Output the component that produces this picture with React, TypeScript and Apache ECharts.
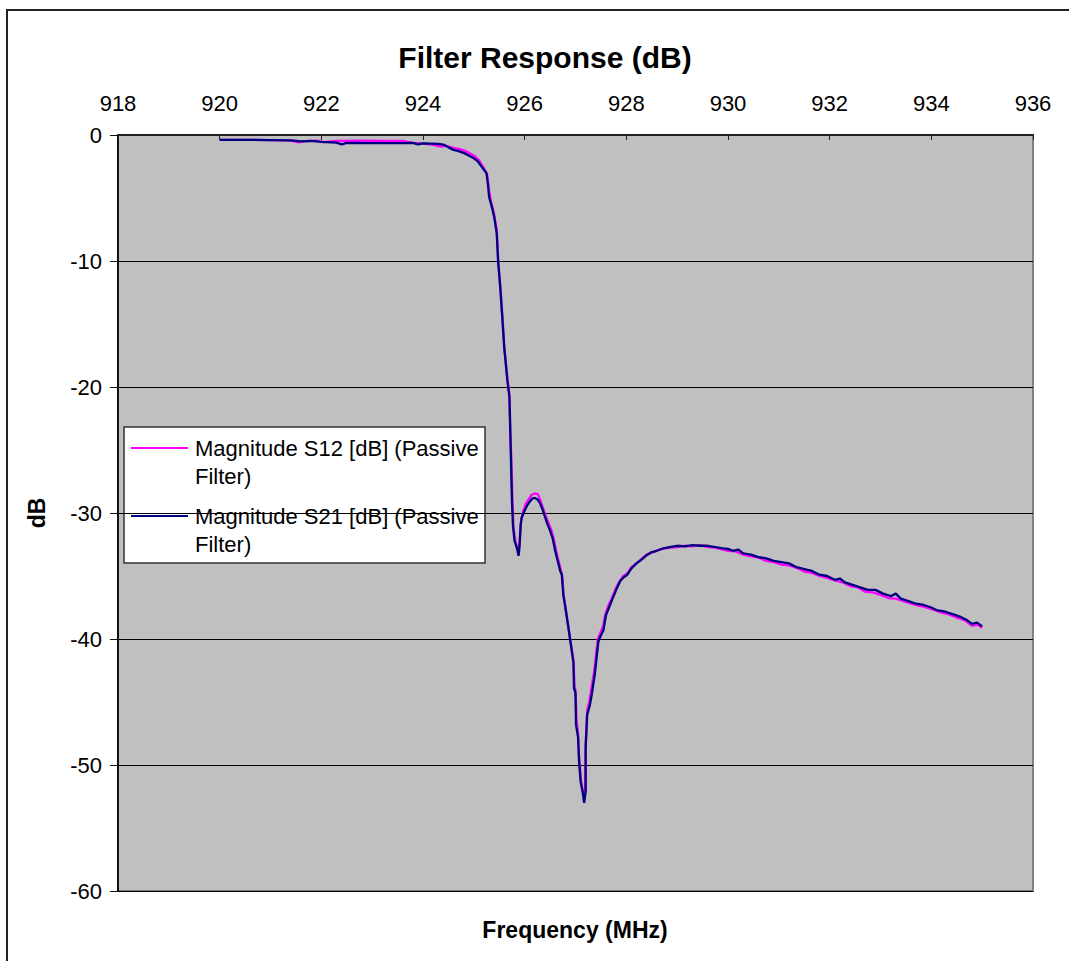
import React, { useEffect, useRef } from "react";
import * as echarts from "echarts";

const xTickLabels = ["918", "920", "922", "924", "926", "928", "930", "932", "934", "936"];
const yTickLabels = ["0", "-10", "-20", "-30", "-40", "-50", "-60"];
const seriesNames = [
  "Magnitude S12 [dB] (Passive Filter)",
  "Magnitude S21 [dB] (Passive Filter)",
];

// [frequency MHz, dB]
const s12: number[][] = [
  [920.0,-0.38],[920.6,-0.38],[921.0,-0.4],[921.4,-0.45],[921.55,-0.58],[921.7,-0.48],[921.9,-0.44],[922.05,-0.56],[922.3,-0.47],[922.8,-0.45],[923.2,-0.46],[923.6,-0.47],[923.8,-0.62],[924.0,-0.66],[924.2,-0.78],[924.35,-0.92],[924.45,-0.86],[924.6,-1.02],[924.7,-1.1],[924.8,-1.22],[924.9,-1.4],[925.0,-1.62],[925.1,-2.0],[925.18,-2.5],[925.26,-3.1],[925.3,-4.4],[925.34,-5.3],[925.4,-6.3],[925.45,-7.5],[925.48,-9.9],[925.52,-12.0],[925.56,-14.3],[925.6,-16.8],[925.66,-19.3],[925.7,-20.6],[925.72,-23.8],[925.74,-25.9],[925.76,-29.2],[925.78,-31.2],[925.82,-32.3],[925.86,-32.9],[925.88,-33.2],[925.9,-32.3],[925.93,-30.6],[925.96,-30.0],[926.02,-29.3],[926.08,-28.9],[926.14,-28.55],[926.2,-28.45],[926.26,-28.5],[926.3,-28.9],[926.36,-29.6],[926.42,-30.3],[926.48,-30.9],[926.52,-31.3],[926.57,-32.0],[926.62,-33.0],[926.66,-33.7],[926.71,-34.5],[926.74,-35.0],[926.77,-36.6],[926.82,-37.9],[926.87,-39.3],[926.91,-40.4],[926.96,-41.7],[926.98,-43.6],[927.0,-44.1],[927.02,-46.4],[927.05,-47.5],[927.07,-49.3],[927.1,-50.8],[927.12,-51.6],[927.14,-52.0],[927.17,-52.3],[927.19,-51.8],[927.2,-48.3],[927.23,-45.7],[927.27,-45.0],[927.31,-44.0],[927.37,-42.5],[927.41,-41.0],[927.44,-40.0],[927.49,-39.5],[927.54,-39.0],[927.59,-38.0],[927.65,-37.3],[927.71,-36.8],[927.79,-36.0],[927.87,-35.4],[927.94,-35.0],[928.02,-34.8],[928.1,-34.3],[928.2,-34.0],[928.3,-33.65],[928.4,-33.3],[928.5,-33.15],[928.62,-32.95],[928.75,-32.8],[928.88,-32.75],[929.0,-32.7],[929.15,-32.6],[929.3,-32.65],[929.45,-32.55],[929.6,-32.7],[929.75,-32.75],[929.9,-32.9],[930.0,-33.0],[930.15,-33.05],[930.3,-33.3],[930.45,-33.45],[930.6,-33.55],[930.75,-33.8],[930.9,-33.9],[931.05,-34.1],[931.2,-34.15],[931.35,-34.35],[931.5,-34.65],[931.65,-34.75],[931.8,-35.0],[931.95,-35.15],[932.1,-35.35],[932.25,-35.5],[932.4,-35.8],[932.55,-35.9],[932.7,-36.25],[932.85,-36.3],[933.0,-36.5],[933.15,-36.75],[933.3,-36.8],[933.45,-37.0],[933.6,-37.2],[933.75,-37.35],[933.9,-37.5],[934.05,-37.7],[934.2,-37.9],[934.35,-38.05],[934.5,-38.3],[934.65,-38.5],[934.8,-38.95],[934.9,-38.85],[935.0,-39.1]
];

const s21: number[][] = [
  [920.0,-0.38],[920.5,-0.38],[921.0,-0.4],[921.4,-0.42],[921.6,-0.5],[921.8,-0.46],[922.0,-0.55],[922.3,-0.6],[922.4,-0.74],[922.5,-0.62],[923.0,-0.64],[923.5,-0.65],[923.8,-0.63],[923.9,-0.74],[924.0,-0.66],[924.3,-0.7],[924.4,-0.76],[924.5,-0.98],[924.6,-1.18],[924.7,-1.28],[924.8,-1.42],[924.9,-1.62],[925.0,-1.85],[925.08,-2.1],[925.16,-2.55],[925.25,-3.05],[925.28,-4.0],[925.3,-4.9],[925.36,-5.8],[925.4,-6.5],[925.45,-7.8],[925.48,-10.2],[925.52,-12.1],[925.56,-14.5],[925.6,-17.0],[925.66,-19.5],[925.7,-20.8],[925.72,-24.0],[925.73,-25.8],[925.75,-29.0],[925.77,-31.0],[925.8,-32.2],[925.85,-32.8],[925.88,-33.4],[925.9,-32.6],[925.92,-31.0],[925.94,-30.4],[926.0,-29.8],[926.05,-29.4],[926.1,-29.1],[926.15,-28.85],[926.2,-28.8],[926.26,-28.95],[926.3,-29.2],[926.35,-29.7],[926.4,-30.3],[926.45,-30.9],[926.5,-31.4],[926.55,-32.0],[926.6,-33.0],[926.65,-33.8],[926.7,-34.6],[926.73,-34.9],[926.76,-36.5],[926.8,-37.5],[926.86,-39.1],[926.9,-40.2],[926.96,-41.9],[926.97,-43.9],[927.0,-44.3],[927.01,-46.8],[927.05,-47.8],[927.07,-49.7],[927.1,-51.3],[927.13,-51.9],[927.15,-52.4],[927.17,-53.0],[927.2,-52.1],[927.2,-48.6],[927.23,-46.0],[927.28,-45.3],[927.32,-44.4],[927.38,-42.8],[927.42,-41.3],[927.45,-40.2],[927.5,-39.7],[927.55,-39.3],[927.6,-38.1],[927.66,-37.5],[927.72,-36.9],[927.8,-36.1],[927.88,-35.4],[927.95,-35.1],[928.02,-34.9],[928.1,-34.4],[928.2,-34.0],[928.3,-33.7],[928.4,-33.35],[928.5,-33.1],[928.6,-33.0],[928.73,-32.8],[928.85,-32.7],[929.0,-32.6],[929.15,-32.65],[929.3,-32.55],[929.45,-32.6],[929.6,-32.6],[929.75,-32.7],[929.9,-32.8],[930.0,-32.85],[930.1,-33.0],[930.2,-32.9],[930.3,-33.2],[930.45,-33.3],[930.6,-33.5],[930.75,-33.6],[930.9,-33.8],[931.05,-33.9],[931.2,-34.0],[931.35,-34.3],[931.5,-34.45],[931.65,-34.6],[931.8,-34.9],[931.95,-35.0],[932.1,-35.3],[932.2,-35.2],[932.3,-35.5],[932.45,-35.7],[932.6,-35.9],[932.75,-36.1],[932.9,-36.1],[933.05,-36.4],[933.2,-36.6],[933.3,-36.4],[933.4,-36.8],[933.55,-37.0],[933.7,-37.2],[933.85,-37.3],[934.0,-37.5],[934.1,-37.7],[934.25,-37.8],[934.4,-38.0],[934.55,-38.2],[934.7,-38.5],[934.8,-38.8],[934.9,-38.7],[935.0,-39.0]
];

const FONT = "'Liberation Sans', Arial, sans-serif";
const colors = ["#FF00FF", "#000080"];

export default function App() {
  const ref = useRef<HTMLDivElement>(null);
  useEffect(() => {
    if (!ref.current) return;
    const chart = echarts.init(ref.current, null, { renderer: "svg" });
    const option: any = {
      animation: false,
      backgroundColor: "#ffffff",
      title: {
        text: "Filter Response (dB)",
        left: 540,
        top: 37,
        textAlign: "center",
        textStyle: { fontFamily: FONT, fontSize: 30, fontWeight: "bold", color: "#000" },
      },
      grid: {
        left: 118,
        top: 135,
        right: 36,
        bottom: 70,
        show: true,
        backgroundColor: "#c0c0c0",
        borderColor: "#808080",
        borderWidth: 2,
      },
      xAxis: {
        type: "value",
        position: "top",
        min: 918,
        max: 936,
        interval: 2,
        axisLine: { show: true, lineStyle: { color: "#222", width: 2 } },
        axisTick: { show: true, inside: true, length: 5, lineStyle: { color: "#222", width: 1 } },
        axisLabel: {
          fontFamily: FONT,
          fontSize: 22,
          color: "#000",
          margin: 21,
          formatter: (v: number) => xTickLabels[Math.round((v - 918) / 2)] ?? String(v),
        },
        splitLine: { show: false },
      },
      yAxis: {
        type: "value",
        min: -60,
        max: 0,
        interval: 10,
        name: "dB",
        nameLocation: "middle",
        nameGap: 70,
        nameTextStyle: { fontFamily: FONT, fontSize: 23, fontWeight: "bold", color: "#000" },
        axisLine: { show: true, lineStyle: { color: "#111", width: 2 } },
        axisTick: { show: true, inside: false, length: 8, lineStyle: { color: "#111", width: 1 } },
        axisLabel: {
          fontFamily: FONT,
          fontSize: 22,
          color: "#000",
          margin: 16,
          formatter: (v: number) => yTickLabels[Math.round(-v / 10)] ?? String(v),
        },
        splitLine: { show: true, lineStyle: { color: "#000", width: 1 } },
      },
      legend: { show: false },
      series: [
        {
          name: seriesNames[0],
          type: "line",
          data: s12,
          showSymbol: false,
          symbol: "none",
          lineStyle: { color: colors[0], width: 2.3 },
          itemStyle: { color: colors[0] },
          z: 3,
        },
        {
          name: seriesNames[1],
          type: "line",
          data: s21,
          showSymbol: false,
          symbol: "none",
          lineStyle: { color: colors[1], width: 2.3 },
          itemStyle: { color: colors[1] },
          z: 4,
        },
      ],
      graphic: [
        {
          type: "rect",
          shape: { x: 7, y: 10, width: 1200, height: 1100 },
          style: { fill: "none", stroke: "#222", lineWidth: 2 },
          silent: true,
          z: 100,
        },
        {
          type: "text",
          x: 575,
          y: 930,
          style: {
            text: "Frequency (MHz)",
            fontFamily: FONT,
            fontSize: 23,
            fontWeight: "bold",
            fill: "#000",
            align: "center",
            verticalAlign: "middle",
          },
        },
        {
          type: "group",
          z: 50,
          children: [
            {
              type: "rect",
              shape: { x: 124, y: 427, width: 361, height: 136 },
              style: { fill: "#ffffff", stroke: "#333", lineWidth: 1.5 },
            },
            {
              type: "line",
              shape: { x1: 131, y1: 448, x2: 188, y2: 448 },
              style: { stroke: colors[0], lineWidth: 2 },
            },
            {
              type: "text",
              x: 195,
              y: 448 - 14.25,
              style: {
                text: "Magnitude S12 [dB] (Passive\nFilter)",
                fontFamily: FONT,
                fontSize: 22,
                lineHeight: 28.5,
                fill: "#000",
                align: "left",
                verticalAlign: "top",
              },
            },
            {
              type: "line",
              shape: { x1: 131, y1: 516, x2: 188, y2: 516 },
              style: { stroke: colors[1], lineWidth: 2 },
            },
            {
              type: "text",
              x: 195,
              y: 516 - 14.25,
              style: {
                text: "Magnitude S21 [dB] (Passive\nFilter)",
                fontFamily: FONT,
                fontSize: 22,
                lineHeight: 28.5,
                fill: "#000",
                align: "left",
                verticalAlign: "top",
              },
            },
          ],
        },
      ],
    };
    chart.setOption(option);
    return () => chart.dispose();
  }, []);
  return (
    <div
      ref={ref}
      style={{ position: "fixed", left: 0, top: 0, width: 1069, height: 961, background: "#fff" }}
    />
  );
}
